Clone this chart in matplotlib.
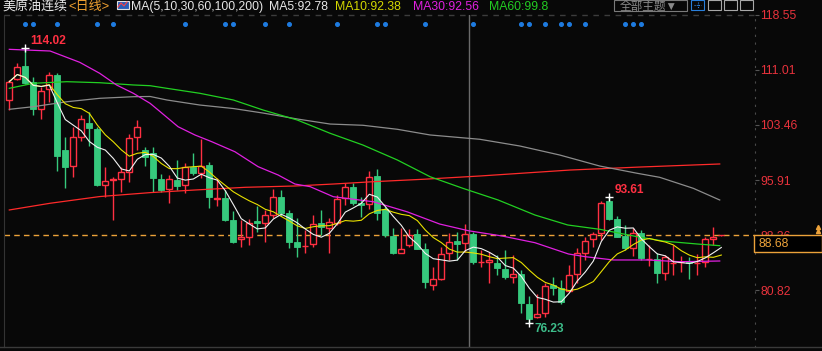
import matplotlib
matplotlib.use("Agg")
import matplotlib.pyplot as plt
import numpy as np
import pandas as pd
from matplotlib.patches import Rectangle
from matplotlib.lines import Line2D

# daily candles
opens = [106.89, 109.77, 111.59, 109.32, 105.65, 108.40, 110.32, 100.03, 97.87, 101.85,
         103.69, 102.91, 95.23, 95.98, 96.01, 96.97, 101.77, 100.03, 99.57, 96.05,
         94.72, 95.91, 95.19, 97.69, 96.91, 97.97, 93.37, 93.44, 90.42, 87.77,
         88.05, 90.29, 90.05, 91.11, 93.54, 91.34, 87.41, 86.82, 87.09, 89.97,
         89.28, 89.97, 93.40, 94.91, 92.69, 92.58, 96.46, 91.89, 88.23, 85.94,
         86.95, 88.50, 86.40, 81.51, 82.33, 85.85, 87.50, 87.23, 88.46, 84.66,
         84.66, 84.57, 83.70, 82.64, 83.01, 78.90, 77.16, 77.62, 81.51, 81.05,
         80.72, 82.97, 85.94, 87.77, 88.60, 93.07, 90.52, 88.23, 86.62, 88.68,
         85.07, 85.12, 83.19, 84.52, 84.66, 84.62, 84.52, 84.70, 87.86, 88.30]
highs = [109.63, 111.92, 114.02, 110.04, 108.71, 110.69, 110.55, 101.77, 103.14, 104.83,
         105.20, 103.18, 97.74, 96.32, 97.74, 102.18, 104.14, 100.44, 100.48, 96.73,
         96.60, 98.66, 98.29, 99.66, 101.50, 98.42, 96.15, 94.54, 91.66, 90.42,
         90.52, 92.35, 91.80, 94.63, 94.54, 91.80, 90.66, 89.05, 91.11, 91.80,
         90.66, 93.85, 95.54, 95.46, 93.62, 97.19, 97.42, 92.25, 89.28, 89.28,
         89.15, 89.15, 87.23, 84.02, 86.76, 88.68, 88.82, 89.88, 88.74, 86.31,
         86.07, 85.62, 86.31, 85.62, 83.56, 80.00, 80.21, 81.82, 82.56, 82.19,
         84.25, 86.54, 88.13, 88.82, 93.07, 93.61, 90.97, 89.74, 89.28, 89.05,
         86.99, 85.85, 85.62, 86.99, 85.48, 85.39, 85.76, 88.13, 89.42, 88.42]
lows = [105.52, 109.70, 109.08, 104.83, 104.28, 106.65, 97.15, 94.86, 96.36, 101.31,
        100.58, 95.09, 93.62, 90.42, 94.31, 95.60, 100.03, 97.83, 94.31, 94.27,
        92.80, 94.54, 94.09, 96.60, 96.15, 92.11, 92.35, 90.29, 87.31, 86.76,
        86.99, 88.82, 87.45, 90.66, 90.97, 86.54, 85.39, 85.85, 86.76, 88.36,
        85.94, 89.74, 92.48, 92.48, 90.88, 91.89, 90.42, 88.13, 85.76, 85.90,
        86.76, 86.45, 81.09, 80.82, 82.19, 84.94, 84.94, 86.07, 84.35, 84.02,
        81.82, 82.88, 82.29, 81.74, 77.70, 76.23, 77.02, 77.16, 80.13, 78.90,
        80.68, 81.74, 84.94, 86.76, 87.68, 90.42, 88.05, 86.31, 85.48, 84.94,
        84.12, 81.82, 82.19, 82.88, 83.33, 82.29, 82.88, 83.93, 86.99, 88.26]
closes = [109.40, 111.37, 109.18, 105.65, 108.12, 110.32, 99.21, 97.74, 101.77, 104.28,
          103.00, 95.23, 95.82, 96.05, 97.05, 101.63, 103.22, 99.07, 96.15, 94.54,
          96.01, 95.13, 97.65, 96.91, 97.83, 93.62, 93.44, 90.42, 87.45, 88.05,
          90.05, 90.05, 91.07, 93.54, 91.34, 87.45, 86.76, 86.86, 89.83, 89.42,
          90.11, 93.26, 94.91, 92.71, 92.55, 96.35, 91.34, 88.36, 85.94, 86.49,
          88.33, 86.49, 81.92, 82.33, 85.72, 87.45, 87.17, 88.46, 84.70, 84.70,
          84.94, 83.88, 82.64, 82.97, 78.99, 76.88, 77.53, 81.37, 81.05, 79.22,
          82.83, 85.85, 87.54, 88.50, 92.71, 90.52, 88.13, 86.62, 88.68, 85.25,
          85.12, 83.19, 85.31, 84.57, 84.70, 84.52, 84.57, 87.77, 88.05, 88.36]

# long moving averages (candle index, price)
ma30_x = [0, 5.1, 8.8, 11.3, 13.4, 15.5, 17.6, 18.6, 21.1, 23.2, 25.3, 28.2, 31.1, 33.6,
          35.7, 37.6, 40.5, 45.5, 49.7, 53.8, 57.4, 61.6, 65.7, 69.9, 72.0, 75.5, 79.7,
          83.8, 88.8]
ma30_y = [113.84, 113.61, 112.06, 110.55, 108.95, 107.81, 106.43, 105.52, 103.22, 102.09,
          101.17, 99.79, 97.74, 96.60, 95.36, 95.00, 93.62, 92.93, 91.56, 89.87, 88.95,
          88.23, 87.31, 85.76, 85.39, 84.94, 84.94, 84.70, 84.80]
ma60_x = [0, 3.0, 7.2, 11.3, 15.5, 17.6, 19.7, 23.8, 28.0, 31.7, 36.0, 40.1, 44.2, 48.5,
          52.6, 56.7, 61.1, 65.7, 69.8, 73.8, 78.5, 81.7, 86.0, 88.8]
ma60_y = [108.49, 109.18, 109.40, 109.26, 108.95, 108.85, 108.49, 107.81, 106.89, 105.52,
          104.14, 102.32, 100.71, 98.66, 96.36, 94.77, 93.17, 91.11, 89.74, 89.15, 88.13,
          87.54, 87.13, 86.90]
ma100_x = [0, 3.0, 7.2, 11.3, 15.5, 17.6, 19.7, 23.8, 28.0, 31.7, 36.0, 40.1, 44.2, 48.5,
           52.6, 58.8, 63.8, 68.8, 73.8, 78.5, 81.3, 85.5, 88.8]
ma100_y = [105.61, 105.97, 106.65, 107.12, 107.34, 107.37, 106.89, 106.20, 105.72, 105.10,
           104.28, 103.59, 103.42, 102.87, 102.09, 101.50, 100.58, 99.34, 97.83, 96.83,
           96.28, 94.77, 93.17]
ma200_x = [0, 5.1, 11.3, 17.6, 23.2, 29.5, 35.7, 40.5, 45.5, 51.7, 58.8, 70.1, 78.8, 88.8]
ma200_y = [91.80, 92.72, 93.64, 94.18, 94.54, 94.91, 95.09, 95.36, 95.68, 96.01, 96.46,
           97.28, 97.69, 98.11]

event_idx = [2, 3, 6, 11, 13, 22, 27, 28, 32, 35, 41, 46, 47, 52, 58, 64, 65, 67, 69, 70,
             72, 77, 78, 79]
peak_idx = 75
cursor_idx = 57.5
yticks = [118.55, 111.01, 103.46, 95.91, 88.36, 80.82]
last_quote = "88.68"

title = "美原油连续"
period = "<日线>"
ma_title = "MA(5,10,30,60,100,200)"
ma_values = [("MA5:92.78", "#e8e8e8", 269.3), ("MA10:92.38", "#d4d800", 335.0),
             ("MA30:92.56", "#e020e0", 413.3), ("MA60:99.8", "#22cc22", 489.3)]

W, H = 822, 351
BG = "#080808"
RED = "#ff3042"
GREEN = "#36c97d"
ORANGE = "#eca23a"

plt.rcParams["font.family"] = ["Liberation Sans", "Noto Sans CJK SC", "DejaVu Sans"]


def fx(x):
    return x / W


def fy(y):
    return 1 - y / H


fig = plt.figure(figsize=(W / 100, H / 100), dpi=100, facecolor=BG)
ax = fig.add_axes([fx(3.5), fy(347), fx(755) - fx(3.5), fy(15) - fy(347)])
ax.set_facecolor(BG)
ax.set_xlim(-0.725, 93.21)
ax.set_ylim(73.0, 118.55)

# candles
w = 0.78
for i, (o, h, l, c) in enumerate(zip(opens, highs, lows, closes)):
    if c >= o:
        ax.vlines(i, c, h, color=RED, lw=1, zorder=2)
        ax.vlines(i, l, o, color=RED, lw=1, zorder=2)
        ax.add_patch(Rectangle((i - w / 2, o), w, c - o, facecolor=BG,
                               edgecolor=RED, lw=1, zorder=3))
    else:
        ax.vlines(i, l, h, color=GREEN, lw=1, zorder=2)
        ax.add_patch(Rectangle((i - w / 2, c), w, o - c, facecolor=GREEN,
                               edgecolor=GREEN, lw=0.6, zorder=3))

# moving averages
s = pd.Series(closes)
idx = np.arange(len(closes))
ax.plot(ma200_x, ma200_y, color="#ff2a2a", lw=0.9, zorder=4)
ax.plot(ma100_x, ma100_y, color="#8c8c8c", lw=0.9, zorder=4)
ax.plot(ma60_x, ma60_y, color="#22d022", lw=0.9, zorder=4)
ax.plot(ma30_x, ma30_y, color="#e020e0", lw=0.9, zorder=4)
ax.plot(idx, s.rolling(10, min_periods=1).mean(), color="#e8e000", lw=0.8, zorder=4)
ax.plot(idx, s.rolling(5, min_periods=1).mean(), color="#f2f2f2", lw=0.8, zorder=5)

# max / min marks
hi_i = int(np.argmax(highs))
lo_i = int(np.argmin(lows))
for i, v, col, dy in [(hi_i, highs[hi_i], RED, 4.8), (peak_idx, highs[peak_idx], RED, 4.8),
                      (lo_i, lows[lo_i], "#3dbd8a", -3.8)]:
    ax.plot(i, v, marker="+", color="white", ms=6, mew=1, zorder=6)
    ax.annotate(f"{v:.2f}", (i, v), xytext=(3.8, dy), textcoords="offset points",
                color=col, fontsize=8.6, fontweight="bold", va="center", ha="left",
                annotation_clip=False, zorder=6)

# event dots along the top
ax.plot(event_idx, [0.972] * len(event_idx), transform=ax.get_xaxis_transform(),
        ls="none", marker="o", ms=2.6, color="#1e7be0", clip_on=False, zorder=6)

# crosshair, current price, top grid
ax.axvline(cursor_idx, color="#6a6a6a", lw=1, zorder=1)
ax.axhline(closes[-1], color=ORANGE, lw=1, ls=(0, (4, 3)), zorder=1)
ax.axhline(118.55, color="#3c3c3c", lw=1, ls=(0, (4, 4)), clip_on=False, zorder=1)

# axis styling
ax.yaxis.tick_right()
ax.set_yticks(yticks)
ax.set_yticklabels([f"{v:.2f}" for v in yticks])
ax.tick_params(axis="y", colors="#555555", labelcolor="#e8323c", length=3, pad=1,
               labelsize=8.7)
ax.set_xticks([])
for side in ["top", "bottom"]:
    ax.spines[side].set_visible(False)
ax.spines["left"].set_color("#333333")
ax.spines["right"].set_color("#4a4a4a")
ax.spines["right"].set_linestyle((0, (1, 6)))

fig.add_artist(Line2D([0, 1], [fy(347), fy(347)], color="#3a3a3a", lw=1))

# last price box
fig.add_artist(Rectangle((fx(754), fy(252.3)), fx(821.5) - fx(754), fy(235.3) - fy(252.3),
                         transform=fig.transFigure, facecolor="black", edgecolor=ORANGE,
                         lw=1, zorder=5))
fig.text(fx(758), fy(244), last_quote, color=ORANGE, fontsize=8.7, va="center", zorder=6)
fig.add_artist(Line2D([fx(818), fx(818)], [fy(226.5), fy(230.5)], ls="none", marker="^",
                      ms=3, color=ORANGE))

# header
base = fy(9.6)
fig.text(fx(2), base, title, color="#e6e6e6", fontsize=9.4, va="baseline")
fig.text(fx(68), base, period, color="#f0a030", fontsize=9.4, va="baseline")
fig.add_artist(Rectangle((fx(116.5), fy(9)), fx(12), fy(0.5) - fy(9),
                         transform=fig.transFigure, facecolor="#2a5db8",
                         edgecolor="#e0e0e0", lw=0.8))
fig.add_artist(Line2D([fx(118), fx(121), fx(124), fx(127)], [fy(7), fy(3), fy(6), fy(2)],
                      color="#ff4040", lw=0.8))
fig.text(fx(131), base, ma_title, color="#e6e6e6", fontsize=8.8, va="baseline")
for txt, col, x in ma_values:
    fig.text(fx(x), base, txt, color=col, fontsize=8.8, va="baseline")

fig.add_artist(Rectangle((fx(613.5), fy(10.5)), fx(73.5), fy(0) - fy(10.5),
                         transform=fig.transFigure, facecolor="none",
                         edgecolor="#7a7a7a", lw=0.8))
fig.text(fx(620), fy(9.3), "全部主题▼", color="#8a8a8a", fontsize=8.4, va="baseline")
for k, x0 in enumerate([691, 707.5, 723.5, 739.5]):
    col = "#2a80dc" if k == 0 else "#a8a8a8"
    fig.add_artist(Rectangle((fx(x0), fy(10)), fx(13), fy(0) - fy(10),
                             transform=fig.transFigure, facecolor="none",
                             edgecolor=col, lw=0.8))
fig.add_artist(Line2D([fx(694), fx(701)], [fy(5), fy(5)], color="#2a80dc", lw=0.8,
                      ls=(0, (1, 1))))
fig.add_artist(Line2D([fx(697.5), fx(697.5)], [fy(2), fy(8)], color="#2a80dc", lw=0.8,
                      ls=(0, (1, 1))))

fig.savefig("out.png", dpi=100, facecolor=BG)
